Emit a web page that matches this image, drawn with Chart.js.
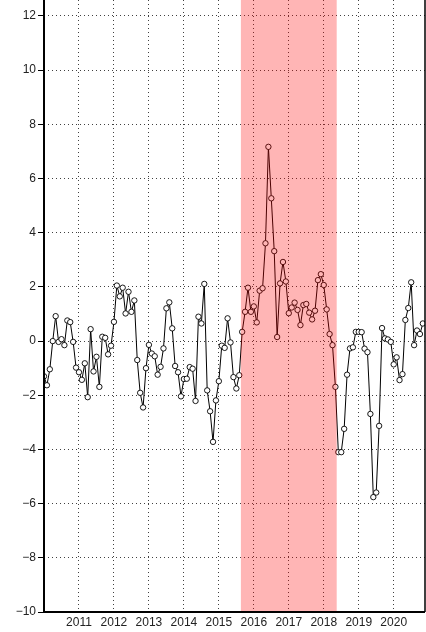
<!DOCTYPE html>
<html><head><meta charset="utf-8">
<script src="https://cdn.jsdelivr.net/npm/chart.js@4"></script>
<style>html,body{margin:0;padding:0;background:#fff;}canvas{display:block;}</style>
</head><body>
<canvas id="c" width="426" height="632"></canvas>
<script>
// Monthly values, Jan..Dec of each year
const v2010 = [-1.3, -1.63, -1.04, 0.0, 0.92, -0.03, 0.07, -0.15, 0.76, 0.7, -0.03, -0.98];
const v2011 = [-1.15, -1.43, -0.82, -2.07, 0.44, -1.12, -0.58, -1.69, 0.16, 0.12, -0.49, -0.17];
const v2012 = [0.71, 2.05, 1.65, 1.97, 1.02, 1.82, 1.08, 1.5, -0.7, -1.91, -2.45, -1.0];
const v2013 = [-0.14, -0.46, -0.56, -1.24, -0.95, -0.27, 1.21, 1.43, 0.47, -0.92, -1.15, -2.04];
const v2014 = [-1.4, -1.39, -0.96, -1.02, -2.21, 0.9, 0.65, 2.11, -1.82, -2.59, -3.72, -2.19];
const v2015 = [-1.48, -0.17, -0.25, 0.84, -0.05, -1.33, -1.75, -1.26, 0.34, 1.08, 1.97, 1.08];
const v2016 = [1.28, 0.69, 1.86, 1.95, 3.61, 7.17, 5.27, 3.32, 0.15, 2.13, 2.92, 2.2];
const v2017 = [1.03, 1.24, 1.42, 1.15, 0.59, 1.33, 1.37, 1.05, 0.8, 1.12, 2.25, 2.47];
const v2018 = [2.07, 1.17, 0.26, -0.15, -1.69, -4.1, -4.1, -3.24, -1.24, -0.27, -0.23, 0.34];
const v2019 = [0.34, 0.33, -0.28, -0.41, -2.69, -5.76, -5.59, -3.13, 0.48, 0.1, 0.06, -0.03];
const v2020 = [-0.86, -0.6, -1.44, -1.22, 0.78, 1.22, 2.17, -0.15, 0.39, 0.26, 0.65];
const seriesYears = [2010, 2011, 2012, 2013, 2014, 2015, 2016, 2017, 2018, 2019, 2020];
const seriesValues = [v2010, v2011, v2012, v2013, v2014, v2015, v2016, v2017, v2018, v2019, v2020];
const yearTicks = [2011, 2012, 2013, 2014, 2015, 2016, 2017, 2018, 2019, 2020];
const yTicks = [-10, -8, -6, -4, -2, 0, 2, 4, 6, 8, 10, 12];
const shadeRange = [2015.63, 2018.37];

const points = [];
seriesValues.forEach((arr, k) => arr.forEach((v, m) => points.push({x: seriesYears[k] + m / 12, y: v})));

Chart.defaults.font.family = "'Liberation Sans', Arial, sans-serif";
Chart.defaults.font.size = 12;
Chart.defaults.color = '#222';

const overlay = {
  id: 'overlay',
  afterDatasetsDraw(chart) {
    const {ctx, chartArea: a, scales: {x}} = chart;
    const x0 = x.getPixelForValue(shadeRange[0]);
    const x1 = x.getPixelForValue(shadeRange[1]);
    ctx.save();
    ctx.fillStyle = 'rgba(255,0,0,0.29)';
    ctx.fillRect(x0, a.top, x1 - x0, a.bottom - a.top);
    ctx.strokeStyle = '#000';
    ctx.lineWidth = 2;
    ctx.beginPath();
    ctx.moveTo(a.left, a.top);
    ctx.lineTo(a.left, a.bottom);
    ctx.lineTo(a.right, a.bottom);
    ctx.stroke();
    ctx.lineWidth = 1.5;
    ctx.beginPath();
    ctx.moveTo(a.right, a.top);
    ctx.lineTo(a.right, a.bottom);
    ctx.stroke();
    ctx.restore();
  }
};

new Chart(document.getElementById('c'), {
  type: 'line',
  data: {
    datasets: [{
      data: points,
      borderColor: '#000',
      borderWidth: 1,
      pointRadius: 2.7,
      pointBorderWidth: 0.9,
      pointBorderColor: '#000',
      pointBackgroundColor: '#fff',
      tension: 0,
      fill: false
    }]
  },
  options: {
    responsive: false,
    animation: false,
    layout: {autoPadding: false, padding: {top: 0, right: 1, left: 0, bottom: 0}},
    plugins: {legend: {display: false}, tooltip: {enabled: false}},
    scales: {
      x: {
        type: 'linear',
        min: 2010,
        max: 2020.895,
        afterBuildTicks: s => { s.ticks = yearTicks.map(v => ({value: v})); },
        afterFit: s => { s.height = 20; s.paddingLeft = 0; s.paddingRight = 0; },
        ticks: {autoSkip: false, maxRotation: 0, padding: 3, callback: v => String(v)},
        grid: {color: 'rgba(0,0,0,0.75)', lineWidth: 1, drawTicks: false},
        border: {display: false, dash: [1, 3]}
      },
      y: {
        type: 'linear',
        min: -10,
        max: 12.59,
        afterBuildTicks: s => { s.ticks = yTicks.map(v => ({value: v})); },
        afterFit: s => { s.width = 44; s.paddingTop = 0; s.paddingBottom = 0; },
        ticks: {padding: 2, callback: v => v < 0 ? '\u2212' + Math.abs(v) : String(v)},
        grid: {color: 'rgba(0,0,0,0.75)', lineWidth: 1, drawTicks: true, tickLength: 6, tickColor: '#000', tickBorderDash: []},
        border: {display: false, dash: [1, 3]}
      }
    }
  },
  plugins: [overlay]
});
</script>
</body></html>
